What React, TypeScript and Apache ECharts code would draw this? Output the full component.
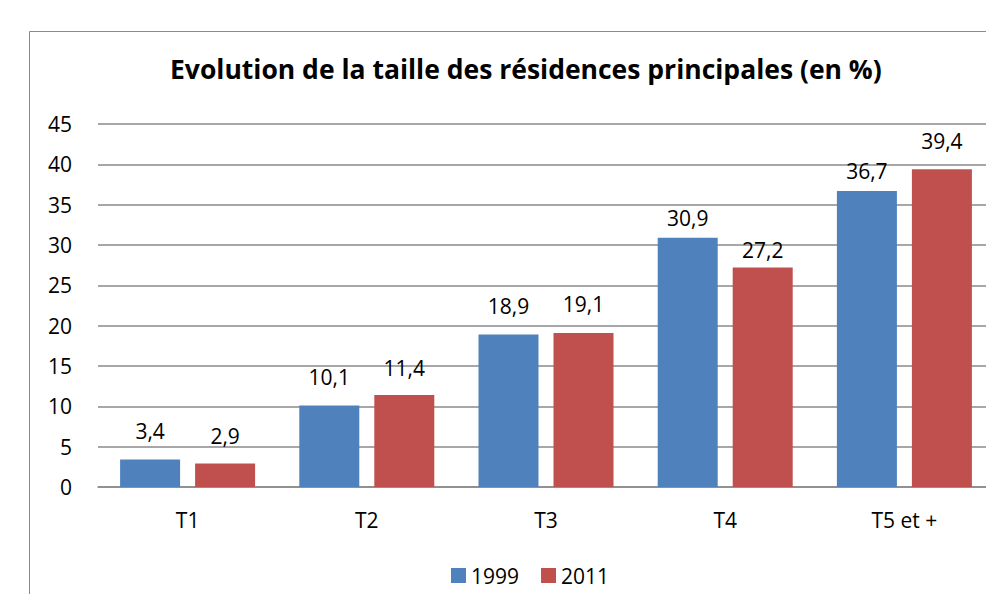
import React, { useEffect, useRef } from "react";
import * as echarts from "echarts";

const categories = ["T1", "T2", "T3", "T4", "T5 et +"];
const values1999 = [3.4, 10.1, 18.9, 30.9, 36.7];
const values2011 = [2.9, 11.4, 19.1, 27.2, 39.4];
const seriesNames = ["1999", "2011"];
const titleText = "Evolution de la taille des résidences principales (en %)";

// label placement (style only, not data)
const labelGap1999 = [18, 18, 18, 9, 9];
const labelGap2011 = [17, 17, 18, 7, 18];

const FONT = "'Open Sans', 'Noto Sans', sans-serif";

export default function App() {
  const ref = useRef<HTMLDivElement>(null);
  useEffect(() => {
    if (!ref.current) return;
    const chart = echarts.init(ref.current, null, { renderer: "svg" });
    const fmt = (p: any) => String(p.value).replace(".", ",");
    const labelBase = { show: true, position: "top", formatter: fmt, fontFamily: FONT, fontSize: 21, color: "#000" };
    chart.setOption({
      animation: false,
      backgroundColor: "#ffffff",
      title: {
        text: titleText,
        left: 170,
        top: 55,
        textStyle: { fontFamily: FONT, fontSize: 26.5, fontWeight: "bold", color: "#000" },
        padding: 0,
      },
      legend: {
        data: seriesNames,
        bottom: 3,
        left: 446,
        itemWidth: 15,
        itemHeight: 15,
        itemGap: 22,
        icon: "rect",
        textStyle: { fontFamily: FONT, fontSize: 21, color: "#000" },
      },
      graphic: [
        {
          type: "rect",
          shape: { x: 29.5, y: 31.5, width: 1100, height: 600 },
          style: { fill: "none", stroke: "#8a8a8a", lineWidth: 1 },
          silent: true,
        },
      ],
      grid: { left: 98, top: 124, width: 896, height: 363, containLabel: false },
      xAxis: {
        type: "category",
        data: categories,
        axisLine: { lineStyle: { color: "#8a8a8a", width: 1.5 } },
        axisTick: { show: false },
        axisLabel: { fontFamily: FONT, fontSize: 21, color: "#000", margin: 22 },
      },
      yAxis: {
        type: "value",
        min: 0,
        max: 45,
        interval: 5,
        axisLine: { show: false },
        axisTick: { show: false },
        splitLine: { lineStyle: { color: "#8a8a8a", width: 1.5 } },
        axisLabel: { fontFamily: FONT, fontSize: 21, color: "#000", margin: 26 },
      },
      series: [
        {
          name: seriesNames[0],
          type: "bar",
          data: values1999.map((v, i) => ({ value: v, label: { distance: labelGap1999[i] } })),
          barWidth: 60,
          barGap: "25%",
          itemStyle: { color: "#4F81BD" },
          label: labelBase,
        },
        {
          name: seriesNames[1],
          type: "bar",
          data: values2011.map((v, i) => ({ value: v, label: { distance: labelGap2011[i] } })),
          barWidth: 60,
          barGap: "25%",
          itemStyle: { color: "#C0504D" },
          label: labelBase,
        },
      ],
    });
    return () => chart.dispose();
  }, []);
  return (
    <div style={{ width: 986, height: 594, position: "absolute", left: 0, top: 0, overflow: "hidden", background: "#fff" }}>
      <div ref={ref} style={{ width: 1040, height: 594, position: "absolute", left: 0, top: 0 }} />
    </div>
  );
}
